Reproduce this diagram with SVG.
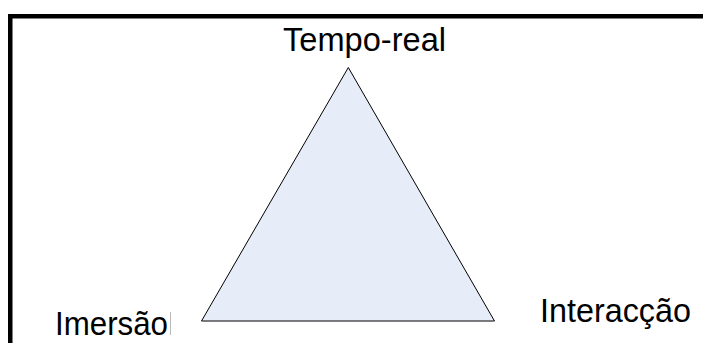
<svg xmlns="http://www.w3.org/2000/svg" width="703" height="343" viewBox="0 0 703 343">
<style>
.lbl{font-family:"Liberation Sans",Arial,sans-serif;font-size:33px;fill:#000}
</style>
<rect width="703" height="343" fill="#fff"/>
<g id="frame">
<polyline points="10.25,343 10.25,16.25 703,16.25" fill="none" stroke="#000" stroke-width="4.5"/>
</g>
<g id="triangle">
<polygon points="348.3,67.5 201.5,321 494.5,321" fill="#E7EDF8" stroke="#000" stroke-width="1"/>
</g>
<g id="connectors"></g>
<g id="node-tempo"><text class="lbl" x="283" y="51" textLength="163" lengthAdjust="spacingAndGlyphs">Tempo-real</text></g>
<g id="node-imersao"><text class="lbl" x="55" y="335" textLength="113" lengthAdjust="spacingAndGlyphs">Imersão</text>
<line x1="170.5" y1="312" x2="170.5" y2="335" stroke="#bbb" stroke-width="1"/></g>
<g id="node-interaccao"><text class="lbl" x="540" y="322" textLength="151" lengthAdjust="spacingAndGlyphs">Interacção</text></g>
</svg>
